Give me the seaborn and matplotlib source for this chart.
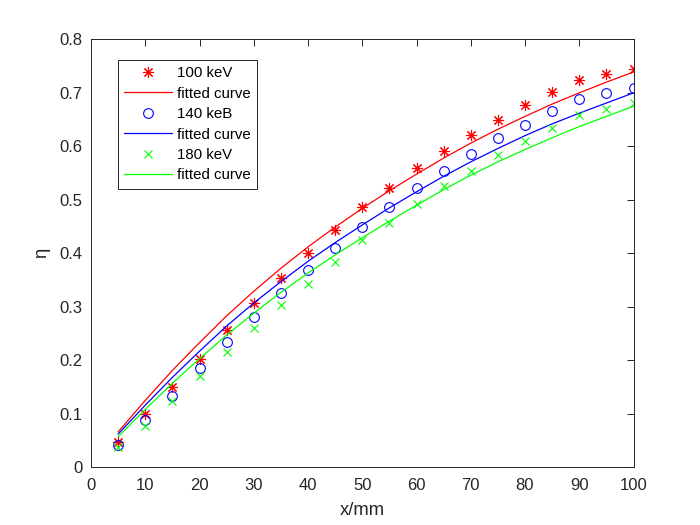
import numpy as np
import pandas as pd
import seaborn as sns
import matplotlib
matplotlib.use("Agg")
import matplotlib.pyplot as plt
from matplotlib.ticker import FuncFormatter

# ---- data ----
x_mm = [5, 10, 15, 20, 25, 30, 35, 40, 45, 50, 55, 60, 65, 70, 75, 80, 85, 90, 95, 100]

eta_100 = [0.047, 0.099, 0.150, 0.203, 0.256, 0.308, 0.353, 0.401, 0.444, 0.486,
           0.522, 0.559, 0.591, 0.621, 0.649, 0.678, 0.702, 0.724, 0.736, 0.744]
eta_140 = [0.041, 0.088, 0.134, 0.185, 0.235, 0.280, 0.325, 0.368, 0.410, 0.450,
           0.487, 0.522, 0.554, 0.586, 0.615, 0.640, 0.666, 0.688, 0.699, 0.709]
eta_180 = [0.037, 0.078, 0.123, 0.170, 0.215, 0.261, 0.304, 0.343, 0.384, 0.424,
           0.457, 0.493, 0.526, 0.554, 0.584, 0.610, 0.634, 0.659, 0.670, 0.681]

fit_100 = [0.066, 0.125, 0.181, 0.233, 0.283, 0.329, 0.372, 0.412, 0.449, 0.484,
           0.517, 0.548, 0.578, 0.606, 0.632, 0.656, 0.679, 0.700, 0.720, 0.739]
fit_140 = [0.062, 0.116, 0.168, 0.217, 0.264, 0.307, 0.347, 0.385, 0.420, 0.453,
           0.485, 0.515, 0.544, 0.571, 0.596, 0.620, 0.642, 0.662, 0.681, 0.700]
fit_180 = [0.057, 0.108, 0.157, 0.203, 0.247, 0.288, 0.327, 0.363, 0.397, 0.429,
           0.460, 0.490, 0.519, 0.546, 0.571, 0.594, 0.616, 0.637, 0.656, 0.675]

series_labels = ["100 keV", "140 keB", "180 keV"]
fit_label = "fitted curve"
x_ticks = [0, 10, 20, 30, 40, 50, 60, 70, 80, 90, 100]
y_ticks = [0, 0.1, 0.2, 0.3, 0.4, 0.5, 0.6, 0.7, 0.8]

# ---- style ----
sns.set_theme(style="white")
plt.rcParams['font.family'] = ['Liberation Sans', 'DejaVu Sans']
axc = "#262626"

fig = plt.figure(figsize=(7, 5.25), dpi=100)
ax = fig.add_axes([0.13, 0.11, 0.775, 0.815])

colors = ["#ff0000", "#0000ff", "#00ff00"]
markers = [(8, 2, 0), "o", "x"]
msizes = [8, 7, 6]
pts = [eta_100, eta_140, eta_180]
fits = [fit_100, fit_140, fit_180]

for lab, c, m, ms, p, f in zip(series_labels, colors, markers, msizes, pts, fits):
    df = pd.DataFrame({"x": x_mm, "y": p})
    mk = dict(marker=m, markersize=ms, markeredgewidth=0.8, color=c, linestyle="none")
    if m == "o":
        mk.update(markerfacecolor="none", markeredgecolor=c)
    else:
        mk.update(markeredgecolor=c)
    sns.lineplot(data=df, x="x", y="y", ax=ax, label=lab, estimator=None,
                 sort=False, **mk)
    dff = pd.DataFrame({"x": x_mm, "y": f})
    sns.lineplot(data=dff, x="x", y="y", ax=ax, label=fit_label, estimator=None,
                 sort=False, color=c, linewidth=0.9)

ax.set_xlim(0, 100)
ax.set_ylim(0, 0.8)
ax.set_xticks(x_ticks)
ax.set_yticks(y_ticks)
ax.yaxis.set_major_formatter(FuncFormatter(lambda v, p: ("%g" % round(v, 2))))
ax.tick_params(direction="in", length=5, width=0.7, colors=axc, labelsize=12,
               top=True, right=True, labelcolor=axc)
ax.tick_params(axis="x", pad=7.5)
ax.tick_params(axis="y", pad=6)
for s in ax.spines.values():
    s.set_visible(True)
    s.set_color(axc)
    s.set_linewidth(0.7)
ax.set_xlabel("x/mm", fontsize=13.2, color=axc, labelpad=7)
ax.set_ylabel("η", fontsize=13.2, color=axc, labelpad=7)
ax.grid(False)

leg = ax.legend(loc="upper left", bbox_to_anchor=(0.05, 0.952), fontsize=10.8,
                frameon=True, fancybox=False, edgecolor=axc, framealpha=1,
                handlelength=3.2, labelspacing=0.43, borderpad=0.42,
                handletextpad=0.33, borderaxespad=0)
leg.get_frame().set_linewidth(0.7)
for t in leg.get_texts():
    t.set_color("black")

fig.savefig("out.png", dpi=100, facecolor="white")
